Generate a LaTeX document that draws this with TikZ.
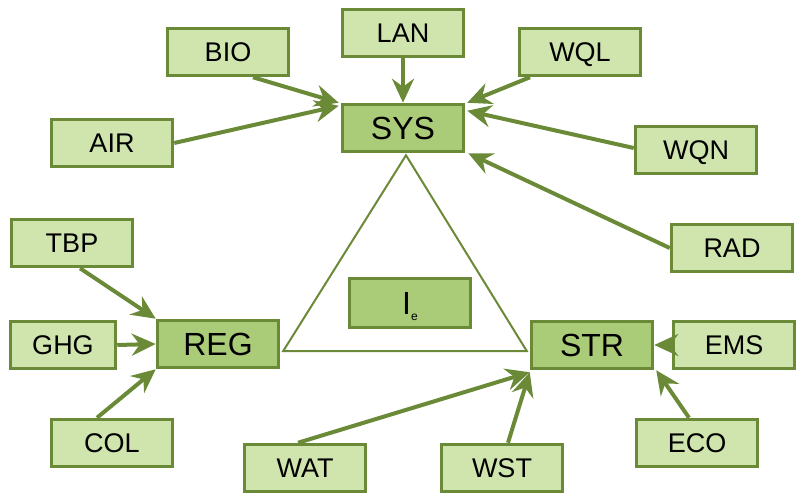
\documentclass[tikz,border=0pt]{standalone}
\usepackage{fontspec}
\setmainfont{Liberation Sans}
\usetikzlibrary{arrows.meta}

\definecolor{leafdark}{RGB}{106,138,56}
\definecolor{leaflight}{RGB}{208,228,174}
\definecolor{leafmid}{RGB}{170,203,120}

\tikzset{%
  >={Stealth[length=24pt,width=22pt,inset=8pt]}, % swept arrow heads
  factor/.style={draw=leafdark,line width=3.5pt,fill=leaflight,
    minimum width=121pt,minimum height=47pt,inner sep=0pt,
    text height=19pt,text depth=0pt,font=\fontsize{27}{27}\selectfont},
  pillar/.style={factor,fill=leafmid,text height=23pt,
    font=\fontsize{32}{32}\selectfont},
  link/.style={->,draw=leafdark,line width=4pt}
}

\begin{document}
\begin{tikzpicture}[x=1pt,y=-1pt]
\useasboundingbox (0,0) rectangle (801,497);

%% the three pillars and the index

\node[pillar] (SYS) at (403,128) {SYS};
\node[pillar] (REG) at (218,344) {REG};
\node[pillar] (STR) at (592,345) {STR};
\node[pillar,minimum height=49pt] (Ie) at (410,303)
  {I\raisebox{-6pt}{\fontsize{12}{12}\selectfont e}};

%% factors

\node[factor] (LAN) at (403,33) {LAN};
\node[factor] (BIO) at (228,52) {BIO};
\node[factor] (WQL) at (580,52) {WQL};
\node[factor] (AIR) at (112,143) {AIR};
\node[factor] (WQN) at (696,150) {WQN};
\node[factor] (RAD) at (732,248) {RAD};
\node[factor] (TBP) at (72,243) {TBP};
\node[factor,minimum width=105pt] (GHG) at (63,345) {GHG};
\node[factor] (COL) at (112,443) {COL};
\node[factor] (EMS) at (734,345) {EMS};
\node[factor] (ECO) at (697,443) {ECO};
\node[factor] (WAT) at (305,468) {WAT};
\node[factor] (WST) at (502,468) {WST};

%% triangle between the pillars

\coordinate (tA) at ([xshift=3pt,yshift=-2pt]SYS.south);
\coordinate (tB) at ([xshift=3pt,yshift=-7pt]REG.east);
\coordinate (tC) at ([xshift=-3pt,yshift=-6pt]STR.west);
\draw[leafdark,line width=2pt] (tA) -- (tB) -- (tC) -- cycle;

%% arrows into SYS

\draw[link] (LAN.south) -- (SYS.north);
\draw[link] ([xshift=25pt]BIO.south) -- ([xshift=-2pt]SYS.north west);
\draw[link] (AIR.east) -- ([xshift=-2pt,yshift=-3pt]SYS.north west);
\draw[link] ([xshift=-50pt]WQL.south) -- ([xshift=2pt]SYS.north east);
\draw[link] ([yshift=2pt]WQN.west) -- ([xshift=2pt,yshift=-8pt]SYS.north east);
\draw[link] (RAD.west) -- ([xshift=3pt]SYS.south east);

%% arrows into REG

\draw[link] ([xshift=8pt]TBP.south) -- (REG.north west);
\draw[link] (GHG.east) -- (REG.west);
\draw[link] ([xshift=-15pt]COL.north) -- (REG.south west);

%% arrows into STR

\draw[link] (EMS.west) -- (STR.east);
\draw[link] ([xshift=-8pt]ECO.north) -- ([xshift=2pt]STR.south east);
\draw[link] ([xshift=-7pt]WAT.north) -- ([yshift=-2pt]STR.south west);
\draw[link] ([xshift=6pt]WST.north) -- ([yshift=-2pt]STR.south west);
\end{tikzpicture}
\end{document}
